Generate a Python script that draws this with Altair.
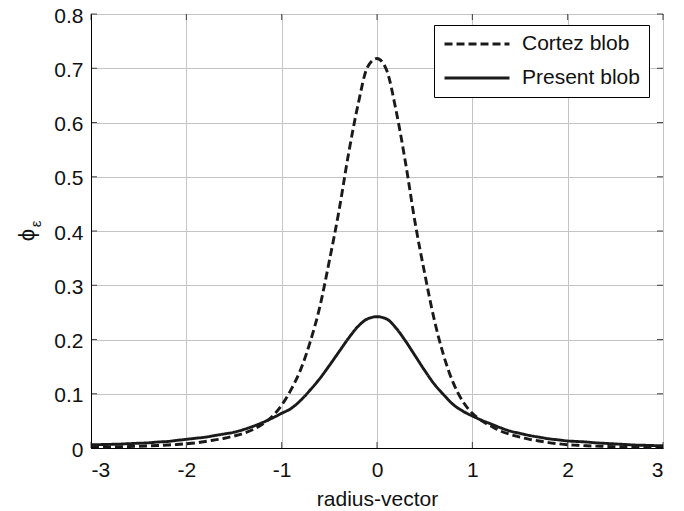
import altair as alt
import pandas as pd

# ---- data ----
x_vals = [round(-3 + 0.1 * i, 1) for i in range(61)]

cortez = [
    0.0015, 0.0017, 0.0020, 0.0023, 0.0027, 0.0032, 0.0038, 0.0045, 0.0055, 0.0065,
    0.0078, 0.0095, 0.012, 0.015, 0.018, 0.022, 0.027, 0.034, 0.044, 0.058,
    0.079, 0.108, 0.145, 0.196, 0.260, 0.345, 0.436, 0.541, 0.632, 0.702,
    0.718,
    0.697, 0.622, 0.525, 0.415, 0.322, 0.237, 0.170, 0.120, 0.086, 0.064,
    0.050, 0.040, 0.031, 0.025, 0.020, 0.016, 0.013, 0.010, 0.0078, 0.0060,
    0.0050, 0.0041, 0.0034, 0.0028, 0.0024, 0.0020, 0.0017, 0.0015, 0.0013, 0.0012,
]

present = [
    0.0060, 0.0063, 0.0067, 0.0072, 0.0080, 0.0088, 0.0095, 0.011, 0.012, 0.014,
    0.016, 0.018, 0.020, 0.023, 0.026, 0.029, 0.034, 0.040, 0.047, 0.055,
    0.064, 0.073, 0.088, 0.107, 0.128, 0.152, 0.177, 0.202, 0.224, 0.238,
    0.242,
    0.238, 0.221, 0.197, 0.170, 0.143, 0.118, 0.098, 0.080, 0.068, 0.059,
    0.051, 0.044, 0.037, 0.031, 0.027, 0.023, 0.020, 0.017, 0.015, 0.013,
    0.012, 0.011, 0.0095, 0.0085, 0.0075, 0.0065, 0.0055, 0.0050, 0.0045, 0.0040,
]

series_names = ["Cortez blob", "Present blob"]
x_ticks = [-3, -2, -1, 0, 1, 2, 3]
y_ticks = [0, 0.1, 0.2, 0.3, 0.4, 0.5, 0.6, 0.7, 0.8]

FONT = "Liberation Sans"

df = pd.DataFrame({
    "x": x_vals * 2,
    "phi": cortez + present,
    "series": [series_names[0]] * len(x_vals) + [series_names[1]] * len(x_vals),
})

x_scale = alt.Scale(domain=[-3, 3], nice=False, zero=False)
y_scale = alt.Scale(domain=[0, 0.8], nice=False)

lines = alt.Chart(df).mark_line(
    strokeWidth=2.9, color="#1a1a1a", interpolate="monotone"
).encode(
    x=alt.X("x:Q", scale=x_scale,
            axis=alt.Axis(values=x_ticks, title="radius-vector",
                          labelExpr="datum.value + ''",
                          ticks=False, labelPadding=11, titlePadding=8)),
    y=alt.Y("phi:Q", scale=y_scale,
            axis=alt.Axis(values=y_ticks, title=None,
                          labelExpr="format(datum.value, '.1~f')",
                          ticks=False, labelPadding=8, labelOffset=2)),
    strokeDash=alt.StrokeDash(
        "series:N",
        scale=alt.Scale(domain=series_names, range=[[8, 4], [1, 0]]),
        legend=alt.Legend(
            title=None, orient="none", legendX=343, legendY=11,
            symbolType="stroke", symbolSize=4225, symbolStrokeWidth=2.9,
            symbolStrokeColor="#1a1a1a", clipHeight=20, rowPadding=13,
            labelOffset=11, labelFontSize=21, labelFont=FONT, labelColor="#111",
            strokeColor="black", fillColor="white", padding=9, cornerRadius=0,
        ),
    ),
)

ydf = pd.DataFrame({"v": y_ticks})
xdf = pd.DataFrame({"v": x_ticks})
tick_style = dict(size=6, thickness=1, color="black")

left_ticks = alt.Chart(ydf).mark_tick(orient="horizontal", xOffset=3, **tick_style).encode(
    x=alt.datum(-3), y=alt.Y("v:Q"))
right_ticks = alt.Chart(ydf).mark_tick(orient="horizontal", xOffset=-3, **tick_style).encode(
    x=alt.datum(3), y=alt.Y("v:Q"))
bottom_ticks = alt.Chart(xdf).mark_tick(orient="vertical", yOffset=-3, **tick_style).encode(
    x=alt.X("v:Q"), y=alt.datum(0))
top_ticks = alt.Chart(xdf).mark_tick(orient="vertical", yOffset=3, **tick_style).encode(
    x=alt.X("v:Q"), y=alt.datum(0.8))

phi_text = alt.Chart(pd.DataFrame({"t": ["\u03d5"]})).mark_text(
    angle=270, fontSize=22, font=FONT, color="#111", align="center", baseline="middle"
).encode(text="t:N", x=alt.value(-64), y=alt.value(221))
eps_text = alt.Chart(pd.DataFrame({"t": ["\u03b5"]})).mark_text(
    angle=270, fontSize=15, font=FONT, color="#111", align="center", baseline="middle"
).encode(text="t:N", x=alt.value(-55), y=alt.value(210))

chart = alt.layer(
    lines, left_ticks, right_ticks, bottom_ticks, top_ticks, phi_text, eps_text
).properties(
    width=572, height=434,
    autosize=alt.AutoSizeParams(type="none"),
    padding={"left": 83, "top": 6, "right": 13, "bottom": 63},
    background="white",
).configure_view(
    stroke="black", strokeWidth=1
).configure_axis(
    grid=True, gridColor="#c4c4c4", gridWidth=1,
    domainColor="black", domainWidth=1,
    labelFont=FONT, labelFontSize=21, labelColor="#111",
    titleFont=FONT, titleFontSize=21, titleColor="#111", titleFontWeight="normal",
)

chart.save("out.html", embed_options={"renderer": "svg", "actions": False})
